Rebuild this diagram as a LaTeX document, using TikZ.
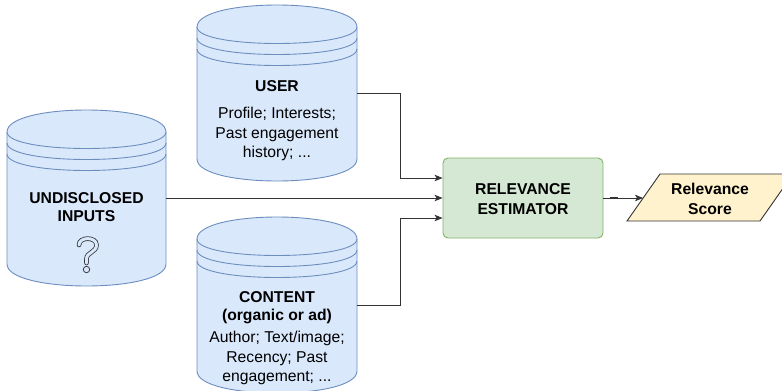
\documentclass[tikz,border=0pt]{standalone}
\usepackage{fontspec}
\setmainfont{Liberation Sans}
\usetikzlibrary{arrows.meta}
\definecolor{dsfill}{HTML}{DAE8FC}
\definecolor{dsline}{HTML}{6C8EBF}
\definecolor{gfill}{HTML}{D5E8D4}
\definecolor{gline}{HTML}{82B366}
\definecolor{yfill}{HTML}{FFF2CC}
\definecolor{yline}{HTML}{333333}
\definecolor{cline}{HTML}{333333}
\definecolor{qline}{HTML}{36393D}
\def\dsdy{22}
% data store cylinder: x, y (top), w, h
\newcommand\dstore[4]{%
  \draw[storeshape] (#1,#2+\dsdy) .. controls (#1,#2-\dsdy/3) and (#1+#3,#2-\dsdy/3) .. (#1+#3,#2+\dsdy)
     -- (#1+#3,#2+#4-\dsdy) .. controls (#1+#3,#2+#4+\dsdy/3) and (#1,#2+#4+\dsdy/3) .. (#1,#2+#4-\dsdy) -- cycle;
  \draw[storeline] (#1,#2+\dsdy) .. controls (#1,#2+2*\dsdy) and (#1+#3,#2+2*\dsdy) .. (#1+#3,#2+\dsdy);
  \draw[storeline] (#1,#2+1.5*\dsdy) .. controls (#1,#2+2.5*\dsdy) and (#1+#3,#2+2.5*\dsdy) .. (#1+#3,#2+1.5*\dsdy);
  \draw[storeline] (#1,#2+2*\dsdy) .. controls (#1,#2+3*\dsdy) and (#1+#3,#2+3*\dsdy) .. (#1+#3,#2+2*\dsdy);
}
\tikzset{
  storeshape/.style={draw=dsline, fill=dsfill, line width=0.9pt},
  storeline/.style={draw=dsline, line width=0.9pt},
  ghost/.style={draw=none, fill=none, inner sep=0pt, outer sep=0pt},
  txt/.style={inner sep=0pt, align=center, anchor=base, text=black,
     font=\fontsize{15.7pt}{19.5pt}\selectfont},
  hd/.style={inner sep=0pt, align=center, anchor=base, text=black,
     font=\bfseries\fontsize{15.7pt}{18pt}\selectfont},
  hdw/.style={inner sep=0pt, align=center, anchor=base, text=black,
     font=\bfseries\fontsize{15.7pt}{20pt}\selectfont},
  estbox/.style={draw=gline, fill=gfill, line width=0.9pt, rounded corners=5pt,
     minimum width=160pt, minimum height=80pt, inner sep=0pt},
  scoreshape/.style={draw=yline, fill=yfill, line width=0.9pt},
  conn/.style={draw=cline, line width=0.9pt, -{Stealth[length=8pt,width=6.5pt,inset=2pt]}},
  qmark/.style={draw=qline, line width=0.8pt, double=dsfill, double distance=3pt, line cap=round}
}
\begin{document}
\begin{tikzpicture}[x=1pt,y=-1pt]
\useasboundingbox (0,0) rectangle (782,391);
\clip (0,0) rectangle (782,391);
\fill[white] (0,0) rectangle (782,391);

% cylinders
\dstore{197}{5}{160}{176}
\dstore{7}{110}{159}{176}
\dstore{197}{217}{160}{176}

\node[ghost, minimum width=160pt, minimum height=176pt] (user) at (277,93) {};
\node[ghost, minimum width=159pt, minimum height=176pt] (undis) at (86.5,198) {};
\node[ghost, minimum width=160pt, minimum height=176pt] (content) at (277,305) {};

% texts in cylinders (anchor = baseline of last line)
\node[hd] (userT) at (277,91) {USER};
\node[txt] (userD) at (277,157.5) {Profile; Interests;\\Past engagement\\history; ...};
\node[hd] (undT) at (86.5,221.5) {UNDISCLOSED\\INPUTS};
\node[hd] (conT) at (277,320.7) {CONTENT\\(organic or ad)};
\node[txt] (conD) at (277,381.7) {Author; Text/image;\\Recency; Past\\engagement; ...};

% question mark icon
\draw[qmark] (79,245) .. controls (79,236.5) and (96.5,236.5) .. (96.5,245)
   .. controls (96.5,252.5) and (86.5,252) .. (86.5,259) -- (86.5,263);
\draw[qline, line width=0.8pt, fill=dsfill] (86.5,269.5) circle (3.2pt);

% estimator
\node[estbox] (est) at (523,198) {};
\node[hdw] (estT) at (523,214) {RELEVANCE\\ESTIMATOR};

% score (parallelogram)
\draw[scoreshape] (627,221) -- (660,174) -- (793,174) -- (760,221) -- cycle;
\node[hdw] (scoreT) at (710,214) {Relevance\\Score};
\node[ghost] (score) at (643.5,198) {};

% connectors
\coordinate (bendU) at (400,0);
\draw[conn] (user.east) -- (user.east -| bendU) |- ([yshift=20pt]est.west);
\draw[conn] (undis.east) -- (est.west);
\draw[conn] (content.east) -- (content.east -| bendU) |- ([yshift=-20pt]est.west);
\draw[conn] (est.east) -- (score);
\draw[cline, line width=2pt] ([xshift=7pt]est.east) -- ([xshift=15pt]est.east);
\end{tikzpicture}
\end{document}
